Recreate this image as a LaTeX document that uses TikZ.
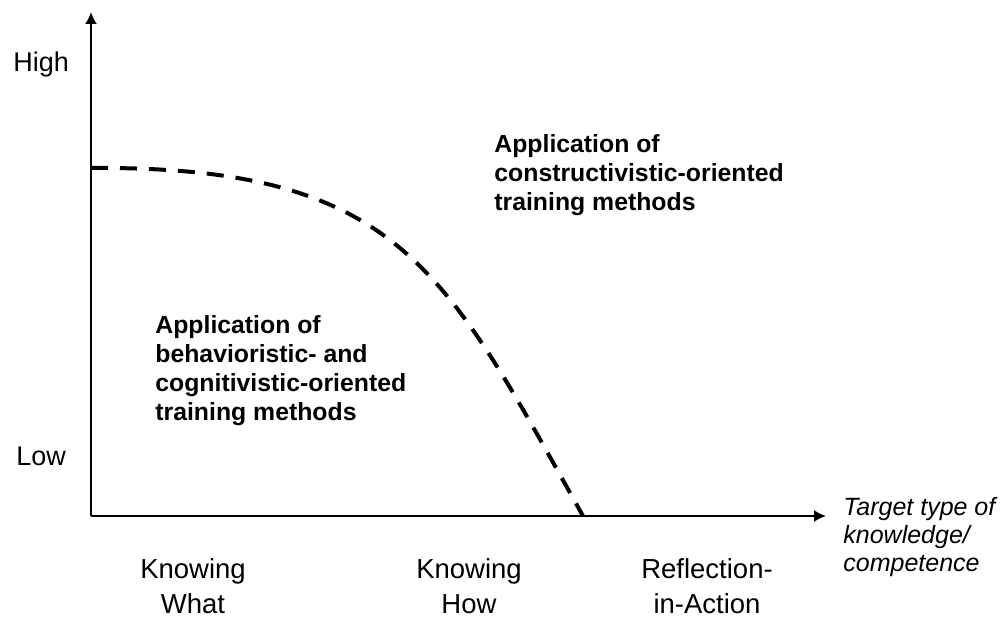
\documentclass[tikz,border=0pt]{standalone}
\usepackage{fontspec}
\setmainfont{Liberation Sans}
\usetikzlibrary{arrows.meta}

\tikzset{
  axis/.style={line width=1pt, -{Latex[length=6pt,width=6pt]}},
  border/.style={line width=2pt, dash pattern=on 8.5pt off 6pt},
  region/.style={anchor=north west, inner sep=0pt, align=left,
    font=\bfseries\fontsize{12.4}{14.6}\selectfont},
  level/.style={anchor=north west, inner sep=0pt, font=\fontsize{13.5}{16}\selectfont},
  kind/.style={anchor=north, inner sep=0pt, align=center,
    font=\fontsize{13.75}{17.5}\selectfont}
}

\begin{document}
\begin{tikzpicture}[x=0.5pt, y=-0.5pt]
  \useasboundingbox (0,0) rectangle (1007,619);

  \coordinate (o) at (91,516);
  \coordinate (ytip) at (91,12);
  \coordinate (xtip) at (826,516);
  \coordinate (start) at (91,168);
  \coordinate (cend) at (583,516);

  \draw[axis] (o) -- (ytip);
  \draw[axis] (o) -- (xtip);

  \draw[border] (start) .. controls (400,166) and (445,270) .. (cend);

  \node[level] (high) at (13,52) {High};
  \node[level] (low) at (16,447) {Low};

  \node[region] (constr) at (494,134)
       {Application of\\constructivistic-oriented\\training methods};
  \node[region] (behav) at (155,315)
       {Application of\\behavioristic- and\\cognitivistic-oriented\\training methods};

  \node[anchor=north west, inner sep=0pt, align=left,
        font=\itshape\fontsize{12.5}{14}\selectfont] (target) at (843,497)
       {Target type of\\knowledge/\\competence};

  \node[kind] (what) at (193,558) {Knowing\\What};
  \node[kind] (how) at (469,558) {Knowing\\How};
  \node[kind] (reflect) at (707,558) {Reflection-\\in-Action};
\end{tikzpicture}
\end{document}
